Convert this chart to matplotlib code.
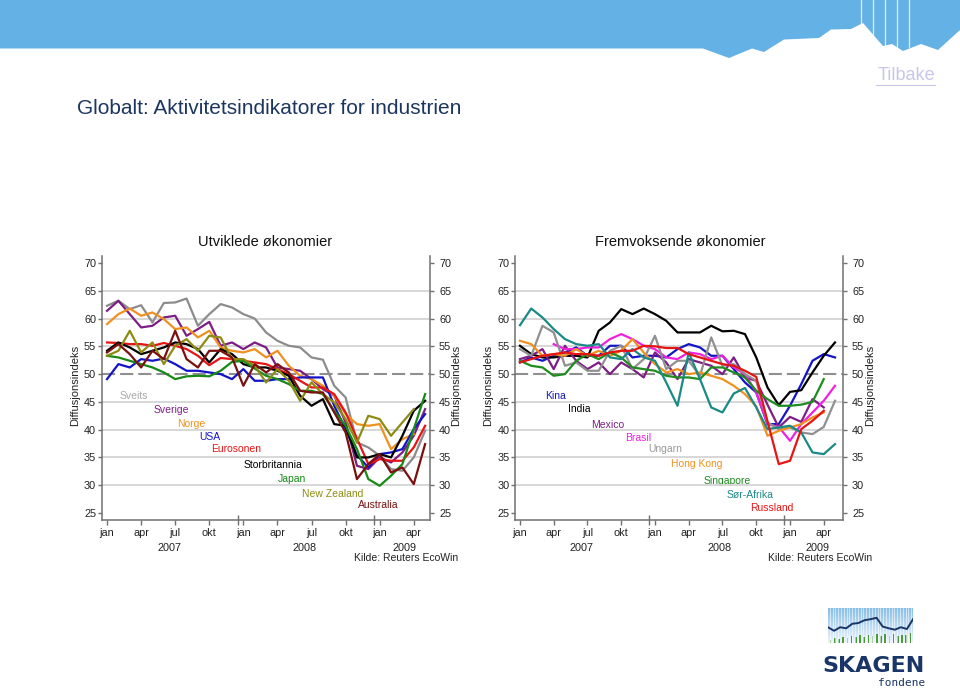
import numpy as np
import matplotlib.pyplot as plt
from matplotlib.patches import Polygon
from matplotlib.transforms import ScaledTranslation

nan = np.nan

#Months: 0 = jan 2007 ... 28 = mai 2009
months = np.arange(29)
quarter_labels = ['jan', 'apr', 'jul', 'okt'] * 2 + ['jan', 'apr']
year_labels = ['2007', '2008', '2009']

#Utviklede okonomier
dev_names = ['Sveits', 'Sverige', 'Norge', 'USA', 'Eurosonen', 'Storbritannia', 'Japan', 'New Zealand', 'Australia']
sveits = [62.3, 63.2, 61.7, 62.4, 59.3, 62.8, 62.9, 63.6, 58.7, 60.8, 62.6, 62.0, 60.8, 60.0, 57.5, 56.0, 55.1, 54.8, 53.0, 52.6, 47.9, 45.8, 37.7, 36.8, 35.3, 32.9, 32.6, 35.0, 39.8]
sverige = [61.4, 63.2, 60.8, 58.4, 58.7, 60.2, 60.5, 56.9, 58.1, 59.4, 55.1, 55.7, 54.5, 55.7, 54.8, 51.2, 50.9, 50.6, 49.1, 47.3, 46.1, 41.3, 33.5, 32.9, 35.0, 34.1, 35.9, 38.9, 43.7]
norge = [59.0, 60.8, 61.8, 60.5, 61.1, 59.9, 58.1, 58.4, 56.6, 57.8, 54.8, 54.2, 53.9, 54.5, 53.0, 54.2, 51.5, 49.7, 49.1, 47.9, 46.1, 42.8, 41.0, 40.7, 41.0, 36.5, 38.3, 39.2, nan]
usa = [49.1, 51.8, 51.2, 52.7, 52.4, 52.8, 51.8, 50.6, 50.6, 50.3, 50.0, 49.1, 50.9, 48.8, 48.8, 49.1, 49.1, 49.4, 49.4, 49.4, 44.3, 40.1, 35.4, 33.2, 35.6, 35.9, 36.5, 40.1, 42.8]
eurosonen = [55.7, 55.6, 55.4, 55.4, 55.1, 55.6, 55.1, 54.5, 53.3, 51.6, 52.9, 52.7, 52.4, 52.1, 51.8, 50.9, 50.0, 48.8, 47.6, 47.6, 46.4, 43.1, 38.4, 33.8, 34.7, 34.4, 34.4, 36.8, 40.7]
storbritannia = [54.2, 55.7, 54.8, 53.6, 54.2, 54.8, 55.7, 55.4, 54.5, 52.1, 54.5, 53.6, 51.8, 51.2, 51.2, 50.6, 49.7, 46.1, 44.3, 45.5, 41.0, 40.7, 35.0, 35.0, 35.6, 35.0, 38.9, 43.4, 45.2]
japan = [53.3, 53.0, 52.4, 51.8, 51.2, 50.3, 49.1, 49.6, 49.7, 49.6, 50.6, 52.2, 52.4, 51.0, 49.7, 49.1, 48.2, 47.0, 47.0, 46.4, 43.4, 40.7, 36.5, 31.1, 29.9, 31.7, 33.8, 40.1, 46.4]
new_zealand = [53.3, 54.2, 57.8, 53.9, 55.7, 51.8, 55.1, 56.3, 54.2, 56.9, 56.6, 52.7, 52.7, 51.5, 48.5, 50.9, 48.8, 45.2, 48.5, 46.4, 44.9, 41.9, 37.7, 42.5, 41.9, 38.9, 41.3, 43.7, nan]
australia = [53.9, 55.4, 53.6, 51.2, 54.2, 52.7, 57.8, 52.7, 51.2, 54.2, 54.2, 53.0, 47.9, 51.8, 50.3, 51.8, 50.3, 47.0, 46.7, 46.7, 43.1, 39.5, 31.1, 33.8, 35.6, 32.3, 33.2, 30.2, 37.4]

#Fremvoksende okonomier
em_names = ['Kina', 'India', 'Mexico', 'Brasil', 'Ungarn', 'Hong Kong', 'Singapore', 'Sør-Afrika', 'Russland']
kina = [52.1, 53.0, 52.4, 53.3, 53.9, 54.8, 53.3, 53.3, 55.1, 55.1, 53.0, 53.3, 53.3, 53.0, 54.5, 55.4, 54.8, 53.3, 53.3, 50.9, 48.5, 46.7, 41.0, 41.0, 44.3, 48.2, 52.4, 53.6, 53.0]
india = [55.1, 53.6, 53.0, 53.0, 53.3, 53.3, 53.0, 57.8, 59.3, 61.7, 60.8, 61.8, 60.8, 59.6, 57.5, 57.5, 57.5, 58.7, 57.7, 57.8, 57.2, 53.0, 47.6, 44.4, 46.8, 47.1, 50.3, 53.3, 55.7]
mexico = [52.7, 53.3, 54.5, 50.9, 55.1, 52.4, 50.9, 52.1, 50.0, 52.1, 50.9, 49.4, 53.9, 52.1, 49.1, 52.7, 52.1, 51.5, 50.0, 53.0, 49.4, 48.8, 44.5, 40.4, 42.3, 41.4, 45.5, 44.0, nan]
brasil = [nan, nan, nan, 55.4, 54.5, 54.5, 54.8, 54.8, 56.3, 57.2, 56.3, 55.1, 54.5, 53.0, 52.7, 53.9, 53.6, 52.7, 53.3, 51.2, 50.0, 46.7, 41.0, 40.5, 38.0, 41.0, 43.1, 45.2, 47.9]
ungarn = [54.5, 53.3, 58.7, 57.5, 51.5, 52.1, 50.6, 50.6, 54.2, 55.1, 50.9, 52.7, 56.9, 50.9, 52.4, 52.4, 49.7, 56.6, 51.5, 51.8, 50.0, 48.8, 41.3, 40.1, 40.4, 39.5, 39.2, 40.5, 45.2]
hong_kong = [56.0, 55.4, 53.3, 53.6, 53.3, 54.5, 53.3, 54.2, 53.3, 54.2, 56.3, 53.9, 51.8, 50.3, 50.9, 50.0, 50.3, 49.7, 49.1, 47.9, 46.4, 44.2, 38.9, 39.8, 40.4, 41.0, 42.2, 43.1, nan]
singapore = [52.4, 51.5, 51.2, 49.7, 50.0, 52.4, 53.6, 52.7, 53.9, 53.0, 51.2, 50.9, 50.6, 49.7, 49.4, 49.4, 49.1, 51.2, 51.2, 50.3, 49.4, 47.0, 45.5, 44.3, 44.3, 44.5, 45.0, 49.1, nan]
sor_afrika = [58.8, 61.8, 60.2, 58.1, 56.3, 55.4, 55.1, 55.4, 53.0, 52.7, 54.5, 53.0, 52.4, 48.5, 44.3, 53.9, 49.1, 44.0, 43.1, 46.5, 47.5, 44.0, 40.1, 40.4, 40.7, 39.5, 35.9, 35.6, 37.4]
russland = [52.1, 52.7, 53.3, 53.6, 53.9, 53.6, 53.6, 53.3, 53.9, 54.2, 54.2, 55.1, 55.0, 54.7, 54.7, 53.6, 53.0, 52.4, 51.8, 51.5, 50.6, 49.5, 41.5, 33.8, 34.4, 40.1, 41.6, 43.4, nan]

#Logo decoration
logo_line = [0.45, 0.35, 0.45, 0.42, 0.55, 0.57, 0.65, 0.68, 0.72, 0.47, 0.42, 0.38, 0.45, 0.40, 0.68]
logo_bars = [0.10, 0.14, 0.12, 0.18, 0.15, 0.20, 0.16, 0.22, 0.18, 0.24, 0.20, 0.26, 0.19, 0.25, 0.21, 0.27, 0.20, 0.24, 0.22, 0.28]

plt.rcParams['font.family'] = ['Liberation Sans', 'DejaVu Sans']

W, H = 960, 690
fig = plt.figure(figsize=(9.6, 6.9), dpi=100)

#Background layer in pixel coordinates
bg = fig.add_axes([0, 0, 1, 1])
bg.set_xlim(0, W)
bg.set_ylim(H, 0)
bg.axis('off')

banner = [(0, 0), (960, 0), (960, 30), (938, 50), (921, 44), (903, 51), (892, 44), (883, 46),
          (863, 23), (851, 29), (831, 29.5), (819, 38), (784, 39.5), (764, 52), (752, 48.5),
          (729, 58), (703, 48.5), (0, 48.5)]
bg.add_patch(Polygon(banner, closed=True, facecolor='#64b1e5', edgecolor='none'))
for xv, yv in [(861, 25), (873, 36), (885, 45), (897, 47), (909, 47)]:
    bg.plot([xv, xv], [0, yv], color='white', lw=0.9, alpha=0.8)

bg.text(77, 108, 'Globalt: Aktivitetsindikatorer for industrien', fontsize=15,
        color='#1c3660', va='center')
bg.text(935, 76, 'Tilbake', fontsize=13, color='#c8c6ea', va='center', ha='right')
bg.plot([876, 935], [85, 85], color='#c8c6ea', lw=0.8)

panels = [
    dict(box=(101.7, 430), xlim=(-0.47, 28.43), title='Utviklede økonomier', title_x=265,
         series=[sveits, sverige, norge, usa, eurosonen, storbritannia, japan, new_zealand, australia],
         names=dev_names,
         colors=['#8c8c8c', '#7d1e86', '#f0901e', '#1414c8', '#e81414', '#000000', '#168a16', '#8c8c14', '#7a1010'],
         label_colors=['#a8a8a8', '#7d1e86', '#f0901e', '#1414c8', '#e81414', '#000000', '#168a16', '#8c8c14', '#7a1010'],
         label_pos=[(120, 396), (154, 410), (177, 424), (199, 437), (211, 449), (244, 465),
                    (278, 479), (302, 494), (358, 505)],
         year_x=[5.5, 17.4, 26.2], ylab_x=(75, 456), kilde_x=458),
    dict(box=(515, 843), xlim=(-0.44, 28.71), title='Fremvoksende økonomier', title_x=680,
         series=[kina, india, mexico, brasil, ungarn, hong_kong, singapore, sor_afrika, russland],
         names=em_names,
         colors=['#1414c8', '#000000', '#7d1e86', '#f020e0', '#909090', '#f0901e', '#1e8c1e', '#1a8a86', '#e81414'],
         label_colors=['#1414c8', '#000000', '#7d1e86', '#f020e0', '#9a9a9a', '#f0901e', '#1e8c1e', '#1a8a86', '#e81414'],
         label_pos=[(545, 396), (568, 409), (591, 425), (625, 438), (648, 449), (671, 464),
                    (704, 481), (727, 495), (750, 508)],
         year_x=[5.5, 17.7, 26.4], ylab_x=(488, 870), kilde_x=872),
]

top_px, bot_px = 256, 520
right_shift = ScaledTranslation(3.5 / 100, 0, fig.dpi_scale_trans)
for p in panels:
    x0, x1 = p['box']
    ax = fig.add_axes([x0 / W, 1 - bot_px / H, (x1 - x0) / W, (bot_px - top_px) / H])
    ax.patch.set_alpha(0)
    ax.set_xlim(*p['xlim'])
    ax.set_ylim(23.74, 71.26)

    #Grid and 50-line
    for v in [30, 35, 40, 45, 55, 60, 65]:
        ax.axhline(v, color='#d4d4d4', lw=1.3, zorder=1)
    ax.axhline(50, color='#8f8f8f', lw=1.5, dashes=(6.3, 2.4), zorder=1)

    #Lines
    for vals, c in zip(p['series'], p['colors']):
        ax.plot(months, vals, color=c, lw=1.6, zorder=3)

    #Spines
    ax.spines['top'].set_visible(False)
    for s in ['left', 'right', 'bottom']:
        ax.spines[s].set_color('#707070')
        ax.spines[s].set_linewidth(1.1)

    #Y axis, labels on both sides
    ax.set_yticks(np.arange(25, 71, 5))
    ax.tick_params(axis='y', left=True, right=True, labelleft=True, labelright=True,
                   direction='out', length=3, width=1, color='#707070',
                   labelsize=7.8, labelcolor='#222222', pad=1)
    for tick in ax.yaxis.get_major_ticks():
        tick.label2.set_transform(tick.label2.get_transform() + right_shift)

    #X axis
    ax.set_xticks(np.arange(0, 28, 3))
    ax.set_xticklabels(quarter_labels)
    ax.set_xticks([11.5, 23.5], minor=True)
    ax.tick_params(axis='x', which='major', direction='out', length=3.5, width=1,
                   color='#707070', labelsize=7.8, labelcolor='#222222', pad=2.5)
    ax.tick_params(axis='x', which='minor', direction='inout', length=7, width=1,
                   color='#707070')
    for xv, yl in zip(p['year_x'], year_labels):
        ax.text(xv, -0.106, yl, transform=ax.get_xaxis_transform(), ha='center',
                va='center', fontsize=7.8, color='#222222')

    #Texts in pixel coordinates
    bg.text(p['title_x'], 242, p['title'], ha='center', va='center', fontsize=10.5, color='#111111')
    for (lx, ly), name, c in zip(p['label_pos'], p['names'], p['label_colors']):
        bg.text(lx, ly, name, color=c, fontsize=7.5, va='center')
    for xl in p['ylab_x']:
        bg.text(xl, 385, 'Diffusjonsindeks', rotation=90, ha='center', va='center',
                fontsize=8, color='#222222')
    bg.text(p['kilde_x'], 558, 'Kilde: Reuters EcoWin', ha='right', va='center',
            fontsize=7.5, color='#222222')

#Logo
logo = fig.add_axes([828 / W, 1 - 643 / H, 85 / W, 35 / H])
logo.axis('off')
grad = np.linspace(0, 1, 60)[:, None]
top_c = np.array([0.52, 0.74, 0.90])
bot_c = np.array([0.93, 0.96, 0.99])
img = top_c[None, None, :] * (1 - grad[:, :, None]) + bot_c[None, None, :] * grad[:, :, None]
logo.imshow(img, extent=(0, 1, 0, 1), aspect='auto')
for xv in np.linspace(0.02, 0.98, 30):
    logo.plot([xv, xv], [0, 1], color='white', lw=0.5, alpha=0.8)
bar_x = np.linspace(0.03, 0.97, len(logo_bars))
logo.bar(bar_x, logo_bars, width=0.018, color='#4e9a3a', bottom=0)
logo.plot(np.linspace(0, 1, len(logo_line)), logo_line, color='#1a3668', lw=1.4)
logo.set_xlim(0, 1)
logo.set_ylim(0, 1)

bg.text(874, 666, 'SKAGEN', ha='center', va='center', fontsize=16, fontweight='bold',
        color='#1a3668', family='DejaVu Sans')
bg.text(902, 683, 'fondene', ha='center', va='center', fontsize=8, color='#1a3668',
        family='DejaVu Sans Mono')

plt.savefig('out.png', dpi=100)
